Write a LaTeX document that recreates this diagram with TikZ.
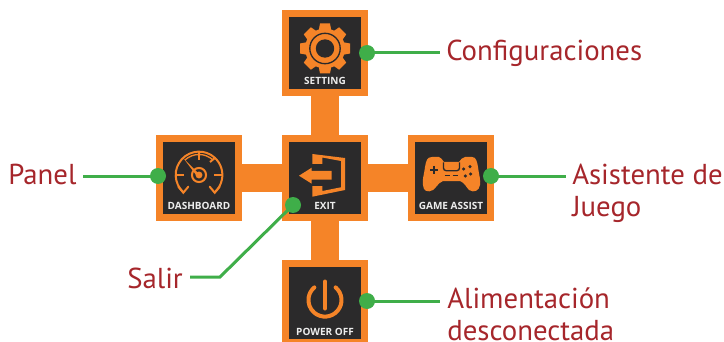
\documentclass[tikz,border=0pt]{standalone}
\usepackage{fontspec}
\setmainfont{PT Sans}
\newfontfamily\iconfont{Open Sans}
\definecolor{org}{HTML}{F58428}
\definecolor{drk}{HTML}{2B2A2B}
\definecolor{grn}{HTML}{3FAE49}
\definecolor{lbl}{HTML}{A6262B}
\definecolor{wht}{HTML}{EDEDED}
\tikzset{
 iconbox/.style={rectangle,draw=org,fill=drk,line width=5.25pt,minimum size=59.6pt,inner sep=0pt},
 barline/.style={draw=org,line width=21pt},
 dotnode/.style={circle,fill=grn,minimum size=12pt,inner sep=0pt},
 leader/.style={draw=grn,line width=2.25pt},
 caption/.style={text=lbl,anchor=base west,inner sep=0pt,align=left,font=\fontsize{21.6}{23.6}\selectfont},
 tag/.style={text=wht,inner sep=0pt,anchor=base,font=\iconfont\bfseries\fontsize{7.5}{8}\selectfont},
 iconline/.style={draw=org,line width=1.5pt},
}
\begin{document}
\begin{tikzpicture}[x=0.75pt,y=-0.75pt]
\path[use as bounding box,clip] (0,0) rectangle (724,342);
\fill[white] (0,0) rectangle (724,342);
% boxes
\node[iconbox] (setting) at (325,53) {};
\node[iconbox] (dash) at (199,178) {};
\node[iconbox] (exit) at (325,178) {};
\node[iconbox] (game) at (451,178) {};
\node[iconbox] (power) at (325,303) {};
% bars
\draw[barline] (setting) -- (exit);
\draw[barline] (dash) -- (exit);
\draw[barline] (exit) -- (game);
\draw[barline] (exit) -- (power);
% gear
\begin{scope}[shift={(325,48.5)}]
 \foreach \a in {0,45,...,315}{
  \fill[org,rotate=\a] (-5,-25) -- (5,-25) -- (6.5,-17) -- (-6.5,-17) -- cycle;}
 \fill[org] (0,0) circle[radius=15pt];
 \draw[drk,line width=1pt] (0,0) circle[radius=11.4pt];
 \fill[drk] (0,0) circle[radius=6.9pt];
\end{scope}
% gauge
\begin{scope}[shift={(199,175)}]
 \draw[iconline,line cap=round] (-15.7,17.2) arc[start angle=227.6,end angle=-47.6,radius=17.5pt];
 \draw[iconline,line width=1pt] (-14,-15) arc[start angle=133,end angle=47,radius=15.4pt];
 \draw[iconline,line cap=round] (-20.7,11.7) -- (-15.7,17.7) -- (-10.7,11.7);
 \draw[iconline,line cap=round] (20.7,11.7) -- (15.7,17.7) -- (10.7,11.7);
 \draw[iconline] (0,-23) -- (0,-15);
 \draw[iconline] (-23,0) -- (-15,0);
 \draw[iconline] (23,0) -- (15,0);
 \draw[iconline] (11,-13) -- (16.5,-17.5);
 \fill[org] (-15,-16) -- (-1,-2) -- (-3,0) -- cycle;
 \draw[iconline] (0,0) circle[radius=5.3pt];
 \fill[org] (0,0) circle[radius=2.6pt];
\end{scope}
% exit
\begin{scope}[shift={(270,125)}]
 \fill[org] (42.3,29) -- (75,33) -- (75,65) -- (42.3,71.7) -- (42.3,61) -- (52.3,61) -- (52.3,66) -- (71,62.3) -- (71,36) -- (52.3,32.5) -- (52.3,39) -- (42.3,39) -- cycle;
 \fill[org] (29,50.7) -- (41.7,42.7) -- (41.7,46) -- (61.7,46) -- (61.7,54.7) -- (41.7,54.7) -- (41.7,58.7) -- cycle;
\end{scope}
% gamepad
\begin{scope}[shift={(400,125)}]
 \fill[org] (32,32) -- (39,32) .. controls (41,32) and (42,35) .. (44,37) -- (59,37) .. controls (61,35) and (62,32) .. (65,32) -- (72,32) .. controls (76,32) and (77,36) .. (78,42) .. controls (79,50) and (81,56) .. (80,60) .. controls (79,66) and (74,68) .. (69,65) .. controls (66,62) and (65,58) .. (60,56) -- (43,56) .. controls (38,58) and (36,63) .. (33,65) .. controls (28,68) and (23,66) .. (23,60) .. controls (22,55) and (24,50) .. (25,42) .. controls (26,36) and (27,32) .. (32,32) -- cycle;
 \draw[drk,line width=1pt,rounded corners=2pt] (43.5,37.5) -- (43.5,45.7) -- (59.5,45.7) -- (59.5,37.5);
 \draw[drk,line width=1pt] (44.7,50.7) -- (50,50.7) (52.5,50.7) -- (58,50.7);
 \draw[drk,line width=1.5pt] (30,45) -- (38,45) (34,41) -- (34,49);
 \foreach \p in {(63.7,44),(70,41.7),(70.7,49),(65.3,51)}{\fill[drk] \p circle[radius=1.3pt];}
\end{scope}
% power
\draw[org,line width=3pt,line cap=round] (335.6,287.4) arc[start angle=50,end angle=-230,radius=12.4pt];
\draw[org,line width=3pt,line cap=round] (325,281.5) -- (325,308.5);
% tags
\node[tag] (tsetting) at (325,84.5) {SETTING};
\node[tag] (tdash) at (199,209.5) {DASHBOARD};
\node[tag] (texit) at (325,209.5) {EXIT};
\node[tag] (tgame) at (451,209.5) {GAME ASSIST};
\node[tag] (tpower) at (325,335) {POWER OFF};
% captions
\node[caption] (cconf) at (446,61) {Configuraciones};
\node[caption] (cpanel) at (8,185) {Panel};
\node[caption] (cgame) at (572,216) {Asistente de\\Juego};
\node[caption] (csalir) at (127,288) {Salir};
\node[caption] (cpower) at (447,340) {Alimentación\\desconectada};
% dots
\node[dotnode] (dset) at (367,53) {};
\node[dotnode] (ddash) at (158,176) {};
\node[dotnode] (dexit) at (293,205) {};
\node[dotnode] (dgame) at (491,176) {};
\node[dotnode] (dpower) at (367,301) {};
% leader ends
\coordinate (eset) at (440,53);
\coordinate (edash) at (83,176);
\coordinate (egame) at (566,176);
\coordinate (epower) at (440,301);
\coordinate (esalir) at (190,277);
\coordinate (bsalir) at (220,277);
\draw[leader] (dset.center) -- (eset);
\draw[leader] (ddash.center) -- (edash);
\draw[leader] (dgame.center) -- (egame);
\draw[leader] (dpower.center) -- (epower);
\draw[leader] (dexit.center) -- (bsalir) -- (esalir);
\end{tikzpicture}
\end{document}
